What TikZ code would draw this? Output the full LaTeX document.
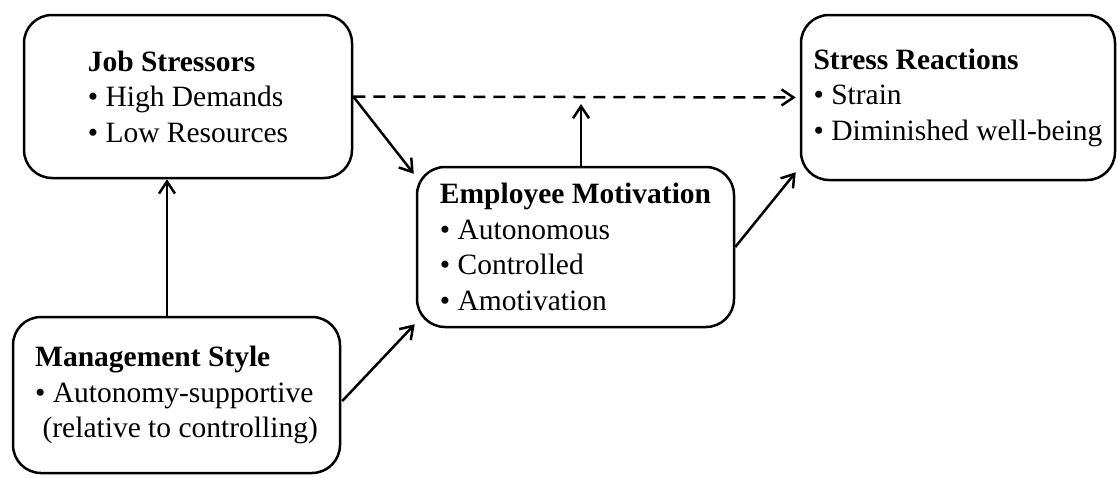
\documentclass[tikz,border=0pt]{standalone}
\usepackage{fontspec}
\setmainfont{Liberation Serif}
\usetikzlibrary{arrows.meta}
\begin{document}
\begin{tikzpicture}[x=1pt,y=-1pt,
  box/.style={draw, line width=2.5pt, rounded corners=28pt, inner sep=0pt,
    align=left, font=\fontsize{29.5}{35.5}\selectfont},
  arr/.style={line width=2.5pt, -{Straight Barb[length=12pt,width=16pt,line width=2.5pt]}},
  dasharr/.style={arr, dash pattern=on 12pt off 8pt, shorten >=4pt}]
\useasboundingbox (0,0) rectangle (1117,477);

% the four rounded boxes
\node[box, minimum width=328pt, minimum height=163pt] (job) at (188,96.5)
  {\textbf{Job Stressors}\\• High Demands\\• Low Resources};
\node[box, minimum width=314pt, minimum height=165pt] (stress) at (958,97.5)
  {\textbf{Stress Reactions}\\• Strain\\• Diminished well-being};
\node[box, minimum width=317pt, minimum height=160pt] (emp) at (575.5,247)
  {\textbf{Employee Motivation}\\• Autonomous\\• Controlled\\• Amotivation};
\node[box, minimum width=327pt, minimum height=156pt] (mgmt) at (176.5,395)
  {\textbf{Management Style}\\• Autonomy-supportive\\\ (relative to controlling)};

% reference points for the vertical connectors
\coordinate (vx) at (167,0);
\coordinate (mx) at (581,104);

% connectors
\draw[arr] (mgmt.north -| vx) -- (job.south -| vx);
\draw[arr] (job.east) -- ([shift={(-2,8)}]emp.north west);
\draw[dasharr] (job.east) -- (stress.west);
\draw[arr] (emp.north -| mx) -- (mx);
\draw[arr] (emp.east) -- ([shift={(-4,-9)}]stress.south west);
\draw[arr] ([shift={(1,6)}]mgmt.east) -- ([shift={(-1,-4)}]emp.south west);
\end{tikzpicture}
\end{document}
